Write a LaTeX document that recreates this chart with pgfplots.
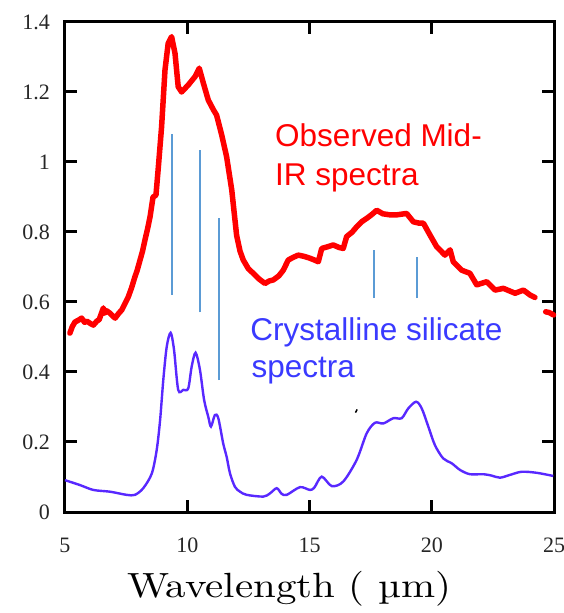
\documentclass[border=0pt]{standalone}
\usepackage{pgfplots}
\pgfplotsset{compat=1.18}
\usepackage{fontspec}
\newfontfamily\tnr{Liberation Serif}
\newfontfamily\arial{Liberation Sans}
\newfontfamily\widelm[FakeStretch=1.17]{lmroman10-regular.otf}
\definecolor{obsred}{RGB}{255,0,0}
\definecolor{crysblue}{RGB}{88,40,255}
\definecolor{txtblue}{RGB}{58,58,255}
\definecolor{markblue}{RGB}{91,155,213}
\begin{document}
\begin{tikzpicture}
\begin{axis}[
  name=ax,
  scale only axis,
  width=489pt, height=490pt,
  xmin=5, xmax=25, ymin=0, ymax=1.4,
  xtick={5,10,15,20,25},
  ytick={0,0.2,0.4,0.6,0.8,1,1.2,1.4},
  tick align=inside,
  major tick length=12pt,
  axis line style={line width=3pt},
  every tick/.style={black, line width=3pt},
  /pgf/number format/assume math mode=true,
  ticklabel style={font=\tnr\fontsize{22}{24}\selectfont, text=black!85, inner sep=0pt},
  xticklabel style={anchor=north, yshift=-26pt},
  yticklabel style={anchor=east, xshift=-15pt},
  clip=false,
]
% observed spectrum
\addplot[obsred, line width=5.5pt, line join=round, line cap=round] coordinates {
(5.2,0.511)(5.3,0.53)(5.41,0.543)(5.55,0.548)(5.68,0.554)(5.8,0.542)(5.9,0.545)(6.05,0.538)(6.16,0.534)(6.3,0.545)(6.4,0.55)
(6.57,0.583)(6.62,0.568)(6.7,0.575)(6.84,0.568)(6.95,0.56)(7.05,0.554)(7.2,0.568)(7.32,0.577)(7.45,0.595)(7.59,0.615)
(7.72,0.64)(7.86,0.672)(7.95,0.69)(8.07,0.72)(8.17,0.745)(8.27,0.777)(8.38,0.81)(8.48,0.844)(8.6,0.9)(8.72,0.905)
(8.82,0.987)(8.95,1.1)(9.09,1.263)(9.22,1.339)(9.36,1.358)(9.5,1.31)(9.63,1.215)
(9.77,1.2)(10.04,1.22)(10.32,1.244)(10.49,1.268)(10.66,1.225)(10.86,1.177)(11.07,1.149)(11.2,1.134)
(11.41,1.077)(11.61,1.015)(11.82,0.92)(12.02,0.79)(12.16,0.745)(12.29,0.72)(12.5,0.695)(12.7,0.682)(12.95,0.665)(13.18,0.653)
(13.35,0.66)(13.52,0.663)(13.75,0.675)(13.93,0.691)(14.13,0.72)(14.35,0.728)(14.54,0.734)(14.8,0.73)(15.02,0.725)(15.2,0.72)(15.36,0.715)
(15.5,0.753)(15.75,0.758)(15.97,0.763)(16.2,0.756)(16.38,0.753)(16.52,0.787)(16.75,0.8)(16.93,0.815)(17.15,0.83)(17.34,0.839)
(17.55,0.85)(17.75,0.862)(18.0,0.852)(18.29,0.849)(18.57,0.849)
(18.97,0.853)(19.25,0.829)(19.5,0.825)(19.66,0.825)(19.93,0.791)(20.2,0.758)(20.54,0.734)(20.75,0.749)(20.88,0.715)
(21.22,0.691)(21.56,0.682)(21.84,0.649)(22.25,0.658)(22.59,0.634)(22.93,0.639)(23.41,0.625)(23.75,0.634)
(24.02,0.62)(24.22,0.613)
};
\addplot[obsred, line width=5.5pt, line cap=round] coordinates {(24.66,0.572)(24.8,0.57)(24.98,0.563)};
% crystalline silicate spectrum
\addplot[crysblue, line width=2.4pt, smooth, tension=0.5] coordinates {
(5,0.091)(5.61,0.077)(6.16,0.063)(6.84,0.058)(7.52,0.049)(7.86,0.049)(8.2,0.068)(8.55,0.11)
(8.75,0.177)(8.89,0.263)(9.02,0.377)(9.16,0.472)(9.32,0.512)(9.46,0.463)(9.63,0.349)(9.84,0.349)
(10.04,0.353)(10.18,0.415)(10.34,0.455)(10.52,0.406)(10.69,0.32)(10.86,0.272)(10.97,0.244)(11.13,0.277)
(11.27,0.268)(11.47,0.196)(11.61,0.158)(11.75,0.11)(11.95,0.072)(12.16,0.058)(12.43,0.049)(13.11,0.044)
(13.38,0.053)(13.66,0.068)(13.86,0.052)(14.07,0.049)(14.61,0.071)(15.02,0.063)(15.2,0.07)(15.5,0.101)
(15.91,0.074)(16.38,0.087)(16.93,0.149)(17.34,0.225)(17.68,0.255)(18.02,0.253)(18.43,0.268)(18.77,0.268)
(19.04,0.296)(19.36,0.315)(19.59,0.296)(19.86,0.244)(20.13,0.191)(20.47,0.153)(20.82,0.139)(21.16,0.12)
(21.56,0.108)(22.11,0.108)(22.45,0.104)(22.79,0.098)(23.2,0.106)(23.68,0.115)(24.29,0.112)(24.97,0.103)
};
% feature markers
\addplot[markblue, line width=2pt] coordinates {(9.36,0.62)(9.36,1.08)};
\addplot[markblue, line width=2pt] coordinates {(10.52,0.57)(10.52,1.035)};
\addplot[markblue, line width=2pt] coordinates {(11.28,0.377)(11.28,0.84)};
\addplot[markblue, line width=2pt] coordinates {(17.62,0.611)(17.62,0.748)};
\addplot[markblue, line width=2pt] coordinates {(19.38,0.611)(19.38,0.728)};
% tiny stray mark
\addplot[black, line width=1.5pt] coordinates {(16.88,0.284)(16.95,0.293)};
% annotations
\node[anchor=base west, inner sep=0pt, text=obsred, font=\arial\fontsize{31.5}{34}\selectfont] at (axis cs:13.59,1.043) {Observed Mid-};
\node[anchor=base west, inner sep=0pt, text=obsred, font=\arial\fontsize{31.5}{34}\selectfont] at (axis cs:13.59,0.934) {IR spectra};
\node[anchor=base west, inner sep=0pt, text=txtblue, font=\arial\fontsize{31.5}{34}\selectfont] at (axis cs:12.57,0.491) {Crystalline silicate};
\node[anchor=base west, inner sep=0pt, text=txtblue, font=\arial\fontsize{31.5}{34}\selectfont] at (axis cs:12.62,0.385) {spectra};
\node[anchor=base, inner sep=0pt, font=\widelm\fontsize{35}{37}\selectfont] at (axis description cs:0.4585,-0.1755) {Wavelength ( µm)};
\end{axis}
\pgfresetboundingbox
\path (ax.south west) ++(-65pt,-101pt) rectangle ++(563pt,613pt);
\end{tikzpicture}
\end{document}
